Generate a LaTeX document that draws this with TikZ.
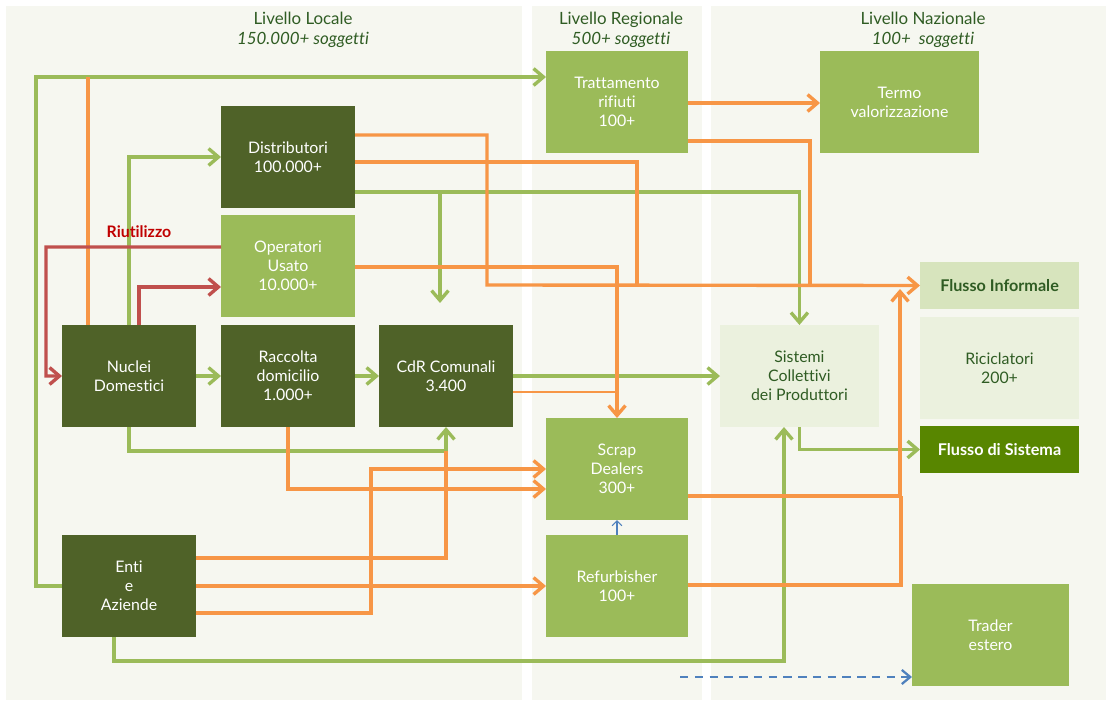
\documentclass[tikz,border=0pt]{standalone}
\usepackage{fontspec}
\setmainfont{Lato}[Ligatures=NoCommon]
\usetikzlibrary{arrows.meta}
\definecolor{FondoPannello}{RGB}{246,247,240}
\definecolor{VerdeScuro}{RGB}{79,98,40}
\definecolor{VerdeMedio}{RGB}{155,187,89}
\definecolor{VerdePallido}{RGB}{235,241,222}
\definecolor{VerdeChiaro}{RGB}{215,228,189}
\definecolor{VerdeSistema}{RGB}{88,134,0}
\definecolor{VerdeTesto}{RGB}{47,92,35}
\definecolor{Arancio}{RGB}{247,150,70}
\definecolor{RossoRiuso}{RGB}{192,80,77}
\definecolor{RossoTesto}{RGB}{192,0,0}
\definecolor{BluTrader}{RGB}{79,129,189}

\tikzset{
  scatola/.style={anchor=north west, inner sep=0pt, outer sep=0pt, align=center,
    minimum width=3.35cm, minimum height=2.55cm,
    font=\fontsize{11.3}{13.6}\selectfont},
  scura/.style={scatola, fill=VerdeScuro, text=white},
  media/.style={scatola, fill=VerdeMedio, text=white},
  pallida/.style={scatola, fill=VerdePallido, text=VerdeTesto, minimum width=3.97cm},
  titolo/.style={align=center, text=VerdeTesto, font=\fontsize{12}{14.2}\selectfont},
  flussoV/.style={draw=VerdeMedio, line width=2.4pt},
  flussoA/.style={draw=Arancio, line width=2.4pt},
  flussoR/.style={draw=RossoRiuso, line width=2.4pt}
}

\begin{document}
\begin{tikzpicture}[x=0.025cm, y=-0.025cm, >={Straight Barb[length=7pt,width=12pt]}]
    \useasboundingbox[fill=white] (0,0) rectangle (1112,701);
    \fill[FondoPannello] (6,6) rectangle (522,700);
    \fill[FondoPannello] (532,6) rectangle (702,700);
    \fill[FondoPannello] (711,6) rectangle (1106,700);

    \node[titolo] (tlocale) at (303,30) {Livello Locale\\\textit{150.000+ soggetti}};
    \node[titolo] (tregion) at (621,30) {Livello Regionale\\\textit{500+ soggetti}};
    \node[titolo] (tnaz) at (923,30) {Livello Nazionale\\\textit{100+ \ soggetti}};

    \node[media, minimum width=3.55cm] (tratt) at (546,51) {Trattamento\\rifiuti\\100+};
    \node[media, minimum width=3.975cm] (termo) at (820,51) {Termo\\valorizzazione};
    \node[scura] (dist) at (221,106) {Distributori\\100.000+};
    \node[media] (oper) at (221,215) {Operatori\\Usato\\10.000+};
    \node[scura] (nucl) at (62,325) {Nuclei\\Domestici};
    \node[scura] (racc) at (221,325) {Raccolta\\domicilio\\1.000+};
    \node[scura] (cdr) at (379,325) {CdR Comunali\\3.400};
    \node[scura] (enti) at (62,535) {Enti\\e\\Aziende};
    \node[media, minimum width=3.55cm] (scrap) at (546,418) {Scrap\\Dealers\\300+};
    \node[media, minimum width=3.55cm] (refurb) at (546,535) {Refurbisher\\100+};
    \node[pallida] (sist) at (720,325) {Sistemi\\Collettivi\\dei Produttori};
    \node[pallida, minimum width=3.975cm] (ricic) at (920,317) {Riciclatori\\200+};
    \node[scatola, fill=VerdeChiaro, text=VerdeTesto, minimum width=3.975cm,
          minimum height=1.175cm, font=\bfseries\fontsize{11.5}{13.6}\selectfont] (finf) at (920,262) {Flusso Informale};
    \node[scatola, fill=VerdeSistema, text=white, minimum width=3.975cm,
          minimum height=1.175cm, font=\bfseries\fontsize{11.5}{13.6}\selectfont] (fsis) at (920,426) {Flusso di Sistema};
    \node[media, minimum width=3.925cm] (trader) at (912,584) {Trader\\estero};

    \coordinate (snodo) at (440,192);
    \coordinate (cdrin) at (440,303);
    \coordinate (finfin) at (900,289);
    \coordinate (tradin) at (680,677);

    \draw[flussoV,->] (enti.west) -| (36,77) -- (tratt.west |- 0,77);
    \draw[flussoV,->] (nucl.north -| 129,0) |- (dist.west);
    \draw[flussoV,->] (dist.east |- 0,192) -| (sist.north);
    \draw[flussoV,->] (snodo) -- (cdrin);
    \draw[flussoV,->] (nucl.east) -- (racc.west);
    \draw[flussoV,->] (racc.east) -- (cdr.west);
    \draw[flussoV,->] (cdr.east) -- (sist.west);
    \draw[flussoV,->] (nucl.south -| 129,0) |- (cdr.south |- 0,451) -- (cdr.south);
    \draw[flussoV,->] (enti.south -| 114,0) |- (784,661) -- (sist.south -| 784,0);
    \draw[flussoV,->] (sist.south) |- (fsis.west);

    \draw[flussoA] (nucl.north -| 88,0) -- (88,77);
    \draw[flussoA,->] (dist.east |- 0,135) -| (487,285) -- (finf.west);
    \draw[flussoA] (dist.east |- 0,162) -| (637,285);
    \draw[flussoA,->] (oper.east |- 0,267) -| (scrap.north);
    \draw[flussoA,->] (tratt.east |- 0,103) -- (termo.west |- 0,103);
    \draw[flussoA] (tratt.east |- 0,141) -| (810,285);
    \draw[flussoA,->] (racc.south -| 288,0) |- (scrap.west |- 0,489);
    \draw[flussoA] (enti.east |- 0,558) -| (cdr.south |- 0,451);
    \draw[flussoA,->] (enti.east) -- (refurb.west);
    \draw[flussoA,->] (enti.east |- 0,613) -| (371,469) -- (scrap.west |- 0,469);
    \draw[flussoA,->] (scrap.east |- 0,496) -| (finfin);
    \draw[flussoA] (refurb.east |- 0,585) -| (901,496);
    \draw[Arancio, line width=0.9pt] (cdr.east |- 0,392) -- (617,392);

    \draw[flussoR,->] (oper.west |- 0,247) -| (46,376) -- (nucl.west);
    \draw[flussoR,->] (nucl.north -| 139,0) |- (oper.west |- 0,287);
    \node[text=RossoTesto, font=\bfseries\fontsize{11.3}{13}\selectfont] (riuso) at (139,232) {Riutilizzo};

    \draw[BluTrader, line width=0.8pt, -{Straight Barb[length=3.5pt,width=7pt]}] (refurb.north) -- (scrap.south);
    \draw[BluTrader, line width=1.6pt, dash pattern=on 6pt off 4.5pt,
          -{Straight Barb[length=6pt,width=10pt]}] (tradin) -- (trader.west |- 0,677);
\end{tikzpicture}
\end{document}
